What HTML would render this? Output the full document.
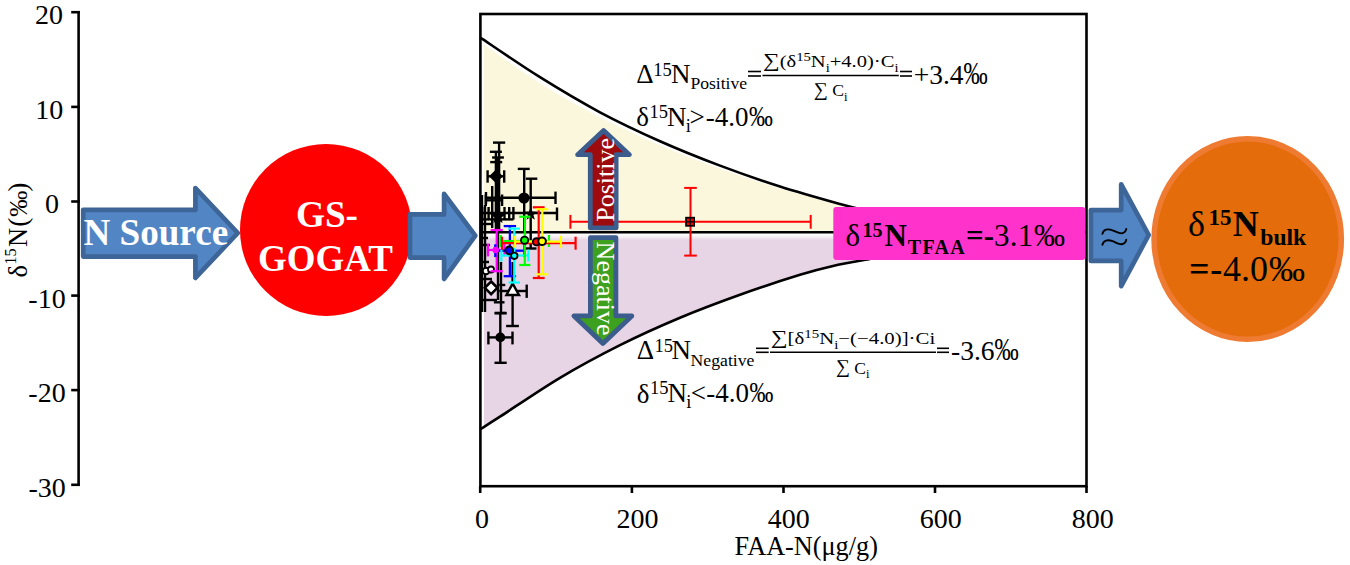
<!DOCTYPE html><html><head><meta charset="utf-8"><style>html,body{margin:0;padding:0;background:#fff;overflow:hidden}svg{display:block}text{font-family:"Liberation Serif",serif}</style></head><body>
<svg width="1350" height="565" viewBox="0 0 1350 565">
<rect width="1350" height="565" fill="#fff"/>
<g stroke="#000" stroke-width="2.6" fill="none">
<line x1="78.6" y1="11" x2="78.6" y2="486"/>
<line x1="71.2" y1="12.2" x2="79.8" y2="12.2"/>
<line x1="71.2" y1="106.9" x2="79.8" y2="106.9"/>
<line x1="71.2" y1="201.5" x2="79.8" y2="201.5"/>
<line x1="71.2" y1="295.6" x2="79.8" y2="295.6"/>
<line x1="71.2" y1="390.1" x2="79.8" y2="390.1"/>
<line x1="71.2" y1="484.8" x2="79.8" y2="484.8"/>
</g>
<g font-size="28" text-anchor="end" fill="#000">
<text x="63.0" y="23.7">20</text>
<text x="63.2" y="118.5">10</text>
<text x="59.0" y="212.9">0</text>
<text x="65.7" y="307.6">-10</text>
<text x="65.7" y="401.9">-20</text>
<text x="65.8" y="496.8">-30</text>
</g>
<g transform="translate(26.6,0) rotate(-90)"><text x="-277.40" y="0.00" font-size="26.50" fill="#000">δ</text><text x="-264.85" y="-10.40" font-size="16.50" fill="#000">15</text><text x="-247.06" y="0.00" font-size="26.50" fill="#000">N</text><text x="-226.81" y="0.00" font-size="27.50" fill="#000">(</text><text x="-216.67" y="0.00" font-size="26.00" fill="#000">‰</text><text x="-191.69" y="0.00" font-size="27.50" fill="#000">)</text></g>
<path d="M484.00,44.40 C493.33,50.87 520.67,71.05 540.00,83.20 C559.33,95.35 580.00,106.97 600.00,117.30 C620.00,127.63 640.00,136.65 660.00,145.20 C680.00,153.75 700.00,161.38 720.00,168.60 C740.00,175.82 760.00,182.43 780.00,188.50 C800.00,194.57 825.00,201.00 840.00,205.00 C855.00,209.00 865.00,211.25 870.00,212.50 L870,232.2 L484,232.2 Z" fill="#FBF7DD"/>
<defs><linearGradient id="pg" gradientUnits="userSpaceOnUse" x1="0" y1="233.2" x2="0" y2="240.2"><stop offset="0" stop-color="#FFFFFF"/><stop offset="0.35" stop-color="#FBF7F9"/><stop offset="1" stop-color="#E7D4E5"/></linearGradient></defs>
<path d="M484.00,428.90 C486.67,426.78 487.33,424.80 500.00,416.20 C512.67,407.60 540.00,389.23 560.00,377.30 C580.00,365.37 600.00,354.62 620.00,344.60 C640.00,334.58 660.00,325.60 680.00,317.20 C700.00,308.80 720.00,301.35 740.00,294.20 C760.00,287.05 784.50,279.08 800.00,274.30 C815.50,269.52 821.33,268.13 833.00,265.50 C844.67,262.87 863.83,259.67 870.00,258.50 L870,232.2 L484,232.2 Z" fill="url(#pg)"/>
<path d="M480.00,37.40 C490.00,44.03 520.00,64.72 540.00,77.20 C560.00,89.68 580.00,101.63 600.00,112.30 C620.00,122.97 640.00,132.32 660.00,141.20 C680.00,150.08 700.00,158.05 720.00,165.60 C740.00,173.15 760.00,180.10 780.00,186.50 C800.00,192.90 825.00,199.83 840.00,204.00 C855.00,208.17 865.00,210.25 870.00,211.50" fill="none" stroke="#000" stroke-width="2.6"/>
<path d="M480.00,429.40 C483.33,427.28 486.67,425.30 500.00,416.70 C513.33,408.10 540.00,389.73 560.00,377.80 C580.00,365.87 600.00,355.12 620.00,345.10 C640.00,335.08 660.00,326.10 680.00,317.70 C700.00,309.30 720.00,301.85 740.00,294.70 C760.00,287.55 784.50,279.58 800.00,274.80 C815.50,270.02 821.33,268.63 833.00,266.00 C844.67,263.37 863.83,260.17 870.00,259.00" fill="none" stroke="#000" stroke-width="2.6"/>
<line x1="480" y1="232.2" x2="1086" y2="232.2" stroke="#000" stroke-width="2.6"/>
<rect x="480.4" y="14" width="606.1" height="472.2" fill="none" stroke="#000" stroke-width="2.6"/>
<g stroke="#000" stroke-width="2.6">
<line x1="480.2" y1="486" x2="480.2" y2="493"/>
<line x1="631.9" y1="486" x2="631.9" y2="493"/>
<line x1="783.5" y1="486" x2="783.5" y2="493"/>
<line x1="935.0" y1="486" x2="935.0" y2="493"/>
<line x1="1086.5" y1="486" x2="1086.5" y2="493"/>
</g>
<g font-size="28" text-anchor="middle" fill="#000">
<text x="482.0" y="528">0</text>
<text x="637.5" y="528">200</text>
<text x="788.7" y="528">400</text>
<text x="940.8" y="528">600</text>
<text x="1092.8" y="528">800</text>
</g>
<text x="734.54" y="554.70" font-size="26.25" fill="#000">FAA-N(μg/g)</text>
<g stroke="#FF0000" stroke-width="2.0" fill="none"><line x1="570.4" y1="221.8" x2="810.7" y2="221.8"/><line x1="570.4" y1="214.9" x2="570.4" y2="228.7"/><line x1="810.7" y1="214.9" x2="810.7" y2="228.7"/><line x1="690.5" y1="187.9" x2="690.5" y2="255.6"/><line x1="684.2" y1="187.9" x2="696.8" y2="187.9"/><line x1="684.2" y1="255.6" x2="696.8" y2="255.6"/></g>
<rect x="685.2" y="216.8" width="9.8" height="9.9" fill="#000"/>
<g fill="#FF0000"><rect x="686.9" y="218.6" width="2.6" height="2.6"/><rect x="690.9" y="218.6" width="2.6" height="2.6"/><rect x="686.9" y="222.5" width="2.6" height="2.6"/><rect x="690.9" y="222.5" width="2.6" height="2.6"/></g>
<g stroke="#000" stroke-width="2.4" fill="none"><line x1="499.1" y1="142.6" x2="499.1" y2="232.0"/><line x1="495.9" y1="151.8" x2="495.9" y2="232.0"/><line x1="498.0" y1="157.5" x2="498.0" y2="300.0"/><line x1="496.2" y1="162.1" x2="496.2" y2="232.0"/><line x1="493.0" y1="142.6" x2="505.2" y2="142.6"/><line x1="489.9" y1="151.8" x2="501.9" y2="151.8"/><line x1="492.1" y1="157.5" x2="503.9" y2="157.5"/><line x1="490.2" y1="162.1" x2="502.2" y2="162.1"/><line x1="487.6" y1="176.3" x2="504.2" y2="176.3"/><line x1="487.6" y1="170.3" x2="487.6" y2="182.7"/><line x1="504.2" y1="170.3" x2="504.2" y2="182.7"/><line x1="486.0" y1="197.8" x2="555.5" y2="197.8"/><line x1="555.5" y1="191.6" x2="555.5" y2="204.0"/><line x1="486.0" y1="192.0" x2="486.0" y2="204.0"/><line x1="524.2" y1="168.9" x2="524.2" y2="232.0"/><line x1="517.8" y1="168.9" x2="529.7" y2="168.9"/><line x1="530.7" y1="178.7" x2="530.7" y2="248.5"/><line x1="525.8" y1="178.7" x2="537.3" y2="178.7"/><line x1="525.0" y1="248.5" x2="536.5" y2="248.5"/><line x1="482.5" y1="213.0" x2="557.0" y2="213.0"/><line x1="557.0" y1="207.5" x2="557.0" y2="220.5"/><line x1="482.0" y1="219.4" x2="513.4" y2="219.4"/><line x1="482.2" y1="207.0" x2="482.2" y2="219.6"/><line x1="488.6" y1="207.0" x2="488.6" y2="219.6"/><line x1="504.5" y1="207.0" x2="504.5" y2="219.6"/><line x1="509.2" y1="207.0" x2="509.2" y2="219.6"/><line x1="513.4" y1="207.0" x2="513.4" y2="219.6"/><line x1="485.8" y1="200.3" x2="502.1" y2="200.3"/><line x1="485.8" y1="194.5" x2="485.8" y2="206.0"/><line x1="502.1" y1="194.5" x2="502.1" y2="206.0"/><line x1="492.2" y1="186.0" x2="492.2" y2="228.0"/><line x1="485.0" y1="205.0" x2="485.0" y2="312.0"/><line x1="482.0" y1="195.0" x2="482.0" y2="312.0"/><line x1="482.0" y1="224.0" x2="492.0" y2="224.0"/><line x1="482.0" y1="238.0" x2="488.0" y2="238.0"/><line x1="482.0" y1="245.0" x2="490.0" y2="245.0"/><line x1="482.0" y1="262.0" x2="489.0" y2="262.0"/><line x1="482.0" y1="279.0" x2="492.0" y2="279.0"/><line x1="482.0" y1="300.0" x2="497.0" y2="300.0"/><line x1="499.2" y1="285.0" x2="505.3" y2="285.0"/><line x1="493.9" y1="302.3" x2="504.5" y2="302.3"/><line x1="494.8" y1="312.9" x2="506.3" y2="312.9"/><line x1="501.0" y1="262.0" x2="501.0" y2="312.0"/><line x1="488.4" y1="337.4" x2="512.5" y2="337.4"/><line x1="488.4" y1="331.6" x2="488.4" y2="344.4"/><line x1="512.5" y1="331.6" x2="512.5" y2="344.4"/><line x1="500.3" y1="313.3" x2="500.3" y2="362.8"/><line x1="494.5" y1="313.3" x2="506.7" y2="313.3"/><line x1="494.5" y1="362.8" x2="506.7" y2="362.8"/><line x1="499.2" y1="291.0" x2="526.7" y2="291.0"/><line x1="526.7" y1="284.6" x2="526.7" y2="297.9"/><line x1="512.6" y1="262.0" x2="512.6" y2="326.0"/><line x1="506.1" y1="326.0" x2="518.9" y2="326.0"/></g>
<path d="M496,169.4 L503,176.3 L496,183.2 L489,176.3 Z" fill="#000"/>
<circle cx="524" cy="198" r="5.6" fill="#000"/>
<path d="M530.7,206.8 L532.4,211.6 L537.4,211.8 L533.4,214.9 L534.9,219.8 L530.7,216.9 L526.5,219.8 L528,214.9 L524,211.8 L529,211.6 Z" fill="#000"/>
<path d="M498,208 L500.5,213 L506,214 L501.5,217.5 L502.5,223 L498,220 L493.5,223 L494.5,217.5 L490,214 L495.5,213 Z" fill="#000"/>
<circle cx="500.3" cy="337.4" r="4.9" fill="#000"/>
<path d="M491.1,281.5 L497.4,287.8 L491.1,294.1 L484.8,287.8 Z" fill="#fff" stroke="#000" stroke-width="2.6"/>
<path d="M512.7,283.6 L519,295 L506.4,295 Z" fill="#fff" stroke="#000" stroke-width="2.4"/>
<circle cx="486" cy="271" r="3.3" fill="#fff" stroke="#000" stroke-width="2"/>
<circle cx="491" cy="269.5" r="3" fill="#fff" stroke="#000" stroke-width="1.8"/>
<g stroke="#FF00FF" stroke-width="2.2" fill="none"><line x1="487.9" y1="250.0" x2="504.5" y2="250.0"/><line x1="487.9" y1="243.7" x2="487.9" y2="256.4"/><line x1="504.5" y1="243.7" x2="504.5" y2="256.4"/><line x1="496.7" y1="230.0" x2="496.7" y2="271.2"/><line x1="490.6" y1="230.0" x2="502.8" y2="230.0"/><line x1="490.6" y1="271.2" x2="502.8" y2="271.2"/></g>
<g stroke="#0000FF" stroke-width="2.3" fill="none"><line x1="495.3" y1="250.7" x2="524.4" y2="250.7"/><line x1="495.3" y1="244.3" x2="495.3" y2="257.1"/><line x1="524.4" y1="244.3" x2="524.4" y2="257.1"/><line x1="509.9" y1="226.1" x2="509.9" y2="276.2"/><line x1="503.7" y1="226.1" x2="516.1" y2="226.1"/><line x1="503.7" y1="276.2" x2="516.1" y2="276.2"/></g>
<g stroke="#00FFFF" stroke-width="2.2" fill="none"><line x1="501.4" y1="255.5" x2="528.4" y2="255.5"/><line x1="501.4" y1="249.5" x2="501.4" y2="261.5"/><line x1="528.4" y1="249.5" x2="528.4" y2="261.5"/><line x1="514.3" y1="228.6" x2="514.3" y2="282.5"/><line x1="508.5" y1="228.6" x2="520.0" y2="228.6"/><line x1="508.5" y1="282.5" x2="520.0" y2="282.5"/></g>
<g stroke="#00FF00" stroke-width="2.2" fill="none"><line x1="500.7" y1="241.0" x2="549.0" y2="241.0"/><line x1="500.7" y1="235.0" x2="500.7" y2="247.0"/><line x1="549.0" y1="235.0" x2="549.0" y2="247.0"/><line x1="524.8" y1="216.7" x2="524.8" y2="265.0"/><line x1="519.2" y1="216.7" x2="530.4" y2="216.7"/><line x1="519.2" y1="265.0" x2="530.4" y2="265.0"/></g>
<g stroke="#FF0000" stroke-width="2.2" fill="none"><line x1="502.0" y1="243.2" x2="575.6" y2="243.2"/><line x1="502.0" y1="236.7" x2="502.0" y2="249.7"/><line x1="575.6" y1="236.7" x2="575.6" y2="249.7"/><line x1="538.7" y1="207.3" x2="538.7" y2="278.0"/><line x1="532.8" y1="207.3" x2="544.6" y2="207.3"/><line x1="532.8" y1="278.0" x2="544.6" y2="278.0"/></g>
<g stroke="#FFFF00" stroke-width="2.2" fill="none"><line x1="515.0" y1="241.7" x2="561.0" y2="241.7"/><line x1="515.0" y1="235.7" x2="515.0" y2="247.7"/><line x1="561.0" y1="235.7" x2="561.0" y2="247.7"/><line x1="542.3" y1="209.2" x2="542.3" y2="274.3"/><line x1="536.4" y1="209.2" x2="548.2" y2="209.2"/><line x1="536.4" y1="274.3" x2="548.2" y2="274.3"/></g>
<circle cx="495.7" cy="250" r="3.3" fill="#FF00FF"/>
<circle cx="514.3" cy="255.8" r="3.2" fill="#00FFFF" stroke="#000" stroke-width="1.8"/>
<circle cx="509.2" cy="250.4" r="3.9" fill="#0000FF" stroke="#000" stroke-width="1.9"/>
<circle cx="524.6" cy="240.2" r="3.6" fill="#00FF00" stroke="#000" stroke-width="1.9"/>
<circle cx="536.5" cy="241.8" r="3.6" fill="#FF0000" stroke="#000" stroke-width="1.9"/>
<circle cx="542.1" cy="241.3" r="3.8" fill="#FFFF00" stroke="#000" stroke-width="2"/>
<path d="M603.6,130.5 L629.4,154.7 L616.1,154.7 L616.1,227.9 L590.3,227.9 L590.3,154.7 L577.6,154.7 Z" fill="#9E0B0F" stroke="#3B5C8C" stroke-width="4.8" stroke-linejoin="round"/>
<text transform="translate(613.8,221.8) rotate(-90)" font-size="26" fill="#fff">Positive</text>
<path d="M590.4,237.7 L615.9,237.7 L615.9,315.9 L631.8,315.9 L602.9,343.4 L574,315.9 L590.4,315.9 Z" fill="#3DA01E" stroke="#3B5C8C" stroke-width="4.8" stroke-linejoin="round"/>
<text transform="translate(597,241.6) rotate(90)" font-size="26" fill="#fff">Negative</text>
<text x="636.17" y="83.30" font-size="27.00" fill="#000">Δ</text>
<text x="653.37" y="75.60" font-size="18.50" fill="#000">15</text>
<text x="670.92" y="83.30" font-size="27.00" fill="#000">N</text>
<text x="690.39" y="89.40" font-size="17.60" fill="#000">Positive</text>
<text x="636.18" y="126.30" font-size="27.00" fill="#000">δ</text>
<text x="649.47" y="117.90" font-size="18.50" fill="#000">15</text>
<text x="667.02" y="126.10" font-size="27.00" fill="#000">N</text>
<text x="685.71" y="132.20" font-size="18.50" fill="#000">i</text>
<text x="689.53" y="126.10" font-size="27.00" fill="#000">&gt;</text>
<text x="705.70" y="126.10" font-size="27.00" fill="#000">-4.0</text>
<text transform="translate(749.40,126.10) scale(0.7938,1)" x="-0.66" y="0" font-size="30.07" fill="#000">‰</text>
<text x="636.77" y="359.40" font-size="27.00" fill="#000">Δ</text>
<text x="654.47" y="351.70" font-size="18.50" fill="#000">15</text>
<text x="671.42" y="359.40" font-size="27.00" fill="#000">N</text>
<text x="690.59" y="365.60" font-size="17.70" fill="#000">Negative</text>
<text x="636.78" y="402.50" font-size="27.00" fill="#000">δ</text>
<text x="650.07" y="394.40" font-size="18.50" fill="#000">15</text>
<text x="667.52" y="402.20" font-size="27.00" fill="#000">N</text>
<text x="686.31" y="408.30" font-size="18.50" fill="#000">i</text>
<text x="690.86" y="402.20" font-size="27.00" fill="#000">&lt;</text>
<text x="706.20" y="402.20" font-size="27.00" fill="#000">-4.0</text>
<text transform="translate(750.00,402.20) scale(0.7938,1)" x="-0.66" y="0" font-size="30.07" fill="#000">‰</text>
<text x="913.73" y="83.80" font-size="27.50" fill="#000">+3.4</text>
<text transform="translate(964.00,83.80) scale(0.7846,1)" x="-0.68" y="0" font-size="30.83" fill="#000">‰</text>
<text x="950.98" y="360.20" font-size="27.50" fill="#000">-3.6</text>
<text transform="translate(995.10,360.20) scale(0.7552,1)" x="-0.70" y="0" font-size="32.03" fill="#000">‰</text>
<g font-size="17.5" fill="#000">
<text x="763" y="67.4" textLength="135.5" lengthAdjust="spacingAndGlyphs"><tspan font-size="19.9" dy="-0.6">∑</tspan><tspan dy="0.6">(δ</tspan><tspan font-size="12.5" dy="-6.5">15</tspan><tspan dy="6.5">N</tspan><tspan font-size="12.5" dy="4.5">i</tspan><tspan dy="-4.5">+4.0)·C</tspan><tspan font-size="12.5" dy="4.5">i</tspan></text>
<text x="813.7" y="96.2" textLength="33.8" lengthAdjust="spacingAndGlyphs"><tspan font-size="19.5" dy="-0.5">∑</tspan><tspan dy="0.5"> C</tspan><tspan font-size="12.5" dy="4.5">i</tspan></text>
<text x="770.7" y="344.3" textLength="164.5" lengthAdjust="spacingAndGlyphs"><tspan font-size="19.9" dy="-0.6">∑</tspan><tspan dy="0.6">[δ</tspan><tspan font-size="12.5" dy="-6.5">15</tspan><tspan dy="6.5">N</tspan><tspan font-size="12.5" dy="4.5">i</tspan><tspan dy="-4.5">−(−4.0)]·Ci</tspan></text>
<text x="836" y="373.7" textLength="33.5" lengthAdjust="spacingAndGlyphs"><tspan font-size="19.5" dy="-0.5">∑</tspan><tspan dy="0.5"> C</tspan><tspan font-size="12.5" dy="4.5">i</tspan></text>
</g>
<g stroke="#000" stroke-width="1.6">
<line x1="762.5" y1="75.5" x2="898.8" y2="75.5"/><line x1="748" y1="71.5" x2="761" y2="71.5"/><line x1="748" y1="76" x2="761" y2="76"/><line x1="900" y1="71.5" x2="912" y2="71.5"/><line x1="900" y1="76" x2="912" y2="76"/>
<line x1="770" y1="352.3" x2="936" y2="352.3"/><line x1="756" y1="348.3" x2="768.7" y2="348.3"/><line x1="756" y1="352.3" x2="768.7" y2="352.3"/><line x1="937" y1="348.3" x2="949" y2="348.3"/><line x1="937" y1="352.3" x2="949" y2="352.3"/>
</g>
<rect x="833.3" y="207" width="252" height="53" rx="3" fill="#FF33CC"/>
<text x="845.5" y="246.3" font-size="31" fill="#000">δ<tspan font-size="20" font-weight="bold" dx="2.5" dy="-9.8">15</tspan><tspan font-weight="bold" dx="1.8" dy="9.8">N</tspan><tspan font-size="20" font-weight="bold" dx="1" dy="7.6" letter-spacing="1.3">TFAA</tspan><tspan font-weight="bold" dy="-7.6">=-</tspan><tspan letter-spacing="0.3">3.1</tspan><tspan dx="0.3">‰</tspan></text>
<path d="M83.2,209.9 L195.4,209.9 L195.4,188.1 L237.8,233.0 L195.4,277.9 L195.4,256.6 L83.2,256.6 Z" fill="#5285C4" stroke="#3D6598" stroke-width="4.7" stroke-linejoin="round"/>
<text x="83.39" y="245.30" font-size="37.15" font-weight="bold" fill="#fff">N Source</text>
<circle cx="326" cy="230" r="86" fill="#FF0000"/>
<text x="295.98" y="227.00" font-size="37.20" font-weight="bold" fill="#fff">GS-</text>
<text x="258.10" y="271.00" font-size="36.95" font-weight="bold" fill="#fff">GOGAT</text>
<path d="M410.0,214.4 L444.1,214.4 L444.1,193.9 L475.3,235.6 L444.1,278.9 L444.1,257.6 L410.0,257.6 Z" fill="#5285C4" stroke="#3D6598" stroke-width="4.7" stroke-linejoin="round"/>
<path d="M1090.9,210.1 L1121.2,210.1 L1121.2,184.4 L1148.7,235.0 L1121.2,286.1 L1121.2,260.9 L1090.9,260.9 Z" fill="#5285C4" stroke="#3D6598" stroke-width="4.7" stroke-linejoin="round"/>
<path d="M1102.4,233.9 C1103.4,229.4 1107.6,228.4 1112.5,230.3 C1117,232.1 1119.2,233.7 1122,233.3 C1124.7,232.9 1125.9,230.7 1126.3,228.9" fill="none" stroke="#000" stroke-width="1.9" stroke-linecap="round"/>
<path d="M1102.4,233.9 C1103.4,229.4 1107.6,228.4 1112.5,230.3 C1117,232.1 1119.2,233.7 1122,233.3 C1124.7,232.9 1125.9,230.7 1126.3,228.9" transform="translate(0,10.9)" fill="none" stroke="#000" stroke-width="1.9" stroke-linecap="round"/>
<ellipse cx="1247.7" cy="239.05" rx="93.6" ry="100.25" fill="#E46C0A" stroke="#EE7B31" stroke-width="5.6"/>
<text x="1188" y="236.2" font-size="36" fill="#000">δ<tspan font-size="23" font-weight="bold" dx="3.5" dy="-11">15</tspan><tspan font-weight="bold" dx="1.2" dy="11">N</tspan><tspan font-size="23.6" font-weight="bold" dx="1.6" dy="9.2">bulk</tspan></text>
<text x="1189" y="280.7" font-size="36" fill="#000"><tspan font-weight="bold" letter-spacing="0.8">=-</tspan>4.0<tspan dx="1" transform="scale(1.1,1)">‰</tspan></text>
</svg></body></html>
